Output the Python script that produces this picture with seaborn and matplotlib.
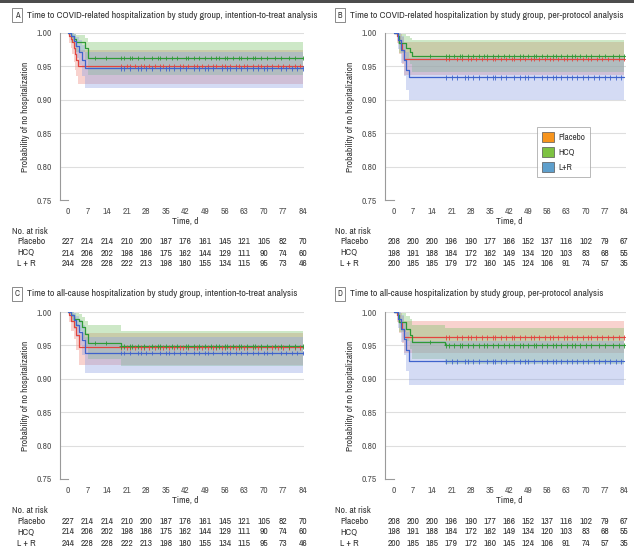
import matplotlib
matplotlib.use("Agg")
import numpy as np
import pandas as pd
import matplotlib.pyplot as plt
import seaborn as sns
from matplotlib import font_manager
from matplotlib.patches import Patch, Rectangle
from matplotlib.transforms import blended_transform_factory

sns.set_theme(style="white")

# prefer a narrow sans face when one is installed
_rank = {"semi-condensed": 0, "condensed": 1, "extra-condensed": 2, "ultra-condensed": 3}
_cands = []
for f in font_manager.fontManager.ttflist:
    if f.style != "normal" or f.weight not in (400, "normal", "regular", "book"):
        continue
    n = f.name.lower()
    st = str(f.stretch).lower()
    if "mono" in n or "serif" in n:
        continue
    if st in _rank:
        _cands.append((_rank[st], f.name, st))
    elif "narrow" in n or "condensed" in n:
        _cands.append((1, f.name, "normal"))
if _cands:
    _, FONT, STRETCH = sorted(_cands)[0]
    NARROW = True
else:
    FONT, STRETCH, NARROW = "Liberation Sans", "normal", False
plt.rcParams["font.family"] = [FONT, "DejaVu Sans"]
plt.rcParams["font.stretch"] = STRETCH

# ---------------------------------------------------------------- data
groups = ["Placebo", "HCQ", "L+R"]
risk_days = [0, 7, 14, 21, 28, 35, 42, 49, 56, 63, 70, 77, 84]

# numbers at risk
itt_risk_placebo = [227, 214, 214, 210, 200, 187, 176, 161, 145, 121, 105, 82, 70]
itt_risk_hcq = [214, 206, 202, 198, 186, 175, 162, 144, 129, 111, 90, 74, 60]
itt_risk_lr = [244, 228, 228, 222, 213, 198, 180, 155, 134, 115, 95, 73, 46]
pp_risk_placebo = [208, 200, 200, 196, 190, 177, 166, 152, 137, 116, 102, 79, 67]
pp_risk_hcq = [198, 191, 188, 184, 172, 162, 149, 134, 120, 103, 83, 68, 55]
pp_risk_lr = [200, 185, 185, 179, 172, 160, 145, 124, 106, 91, 74, 57, 35]

# censoring days
itt_cens_placebo = [19, 21, 22, 24, 26, 27, 29, 31, 33, 34, 36, 38, 40, 41, 43, 45, 46, 48, 50,
                    52, 53, 55, 56, 58, 60, 61, 63, 64, 66, 68, 69, 71, 73, 75, 77, 79, 81, 83]
itt_cens_hcq = [9.5, 13.5, 19, 20, 22, 23, 25, 27, 30, 32, 33, 35, 37, 39, 42, 43, 45, 47, 49,
                51, 53, 54, 56, 57, 59, 61, 62, 64, 66, 67, 69, 71, 74, 76, 79, 81, 84]
itt_cens_lr = [19, 20, 22, 25, 26, 28, 30, 33, 35, 36, 38, 40, 42, 45, 47, 49, 50, 52, 55, 57,
               58, 60, 62, 64, 66, 68, 70, 71, 73, 76, 78, 80, 82, 84]
pp_cens_placebo = [19, 20, 23, 25, 27, 28, 30, 32, 34, 36, 37, 39, 41, 43, 44, 46, 48, 50, 51,
                   53, 55, 57, 58, 60, 62, 63, 65, 67, 69, 71, 72, 74, 76, 78, 80, 82, 84]
pp_cens_hcq = [13, 19, 20, 22, 24, 25, 27, 29, 31, 33, 34, 36, 38, 40, 42, 44, 46, 47, 49, 51,
               52, 54, 56, 58, 59, 61, 63, 65, 66, 68, 70, 72, 75, 77, 80, 82, 84]
pp_cens_lr = [19, 21, 23, 26, 27, 29, 31, 34, 36, 37, 39, 41, 44, 46, 48, 49, 51, 54, 56, 58,
              59, 61, 63, 65, 67, 69, 71, 73, 75, 77, 79, 81, 83]

# A: COVID-related hospitalization, intention-to-treat
a_placebo_t = [0, 0.5, 1, 1.5, 2, 2.5, 3, 3.5, 84]
a_placebo_s = [1, 0.995, 0.991, 0.986, 0.978, 0.969, 0.960, 0.951, 0.951]
a_placebo_lo = [1, 0.985, 0.977, 0.968, 0.957, 0.945, 0.935, 0.924, 0.924]
a_placebo_hi = [1, 1.0, 0.998, 0.995, 0.991, 0.985, 0.979, 0.975, 0.975]
a_hcq_t = [0, 1, 2, 3, 6, 7, 84]
a_hcq_s = [1, 0.995, 0.991, 0.986, 0.977, 0.963, 0.963]
a_hcq_lo = [1, 0.985, 0.979, 0.972, 0.959, 0.937, 0.937]
a_hcq_hi = [1, 1, 0.999, 0.997, 0.993, 0.987, 0.987]
a_lr_t = [0, 1, 2, 3, 4, 5, 6, 84]
a_lr_s = [1, 0.996, 0.988, 0.980, 0.972, 0.960, 0.947, 0.947]
a_lr_lo = [1, 0.988, 0.975, 0.963, 0.952, 0.935, 0.918, 0.918]
a_lr_hi = [1, 1, 0.998, 0.994, 0.989, 0.982, 0.972, 0.972]

# B: COVID-related hospitalization, per-protocol
b_placebo_t = [0, 1, 2, 3, 3.5, 84]
b_placebo_s = [1, 0.995, 0.985, 0.975, 0.9615, 0.9615]
b_placebo_lo = [1, 0.985, 0.968, 0.953, 0.937, 0.937]
b_placebo_hi = [1, 1, 0.998, 0.994, 0.987, 0.987]
b_hcq_t = [0, 1.5, 2, 4.5, 5.8, 6.5, 84]
b_hcq_s = [1, 0.995, 0.985, 0.978, 0.972, 0.966, 0.966]
b_hcq_lo = [1, 0.983, 0.970, 0.961, 0.953, 0.942, 0.942]
b_hcq_hi = [1, 1, 0.998, 0.995, 0.992, 0.989, 0.989]
b_lr_t = [0, 1.5, 2.5, 3.5, 4.5, 5.5, 84]
b_lr_s = [1, 0.990, 0.975, 0.960, 0.945, 0.9335, 0.9335]
b_lr_lo = [1, 0.976, 0.955, 0.935, 0.915, 0.900, 0.900]
b_lr_hi = [1, 1, 0.995, 0.985, 0.972, 0.963, 0.963]

# C: all-cause hospitalization, intention-to-treat
c_placebo_t = [0, 0.5, 1, 2, 3, 4, 84]
c_placebo_s = [1, 0.995, 0.987, 0.978, 0.965, 0.947, 0.947]
c_placebo_lo = [1, 0.985, 0.972, 0.959, 0.943, 0.921, 0.921]
c_placebo_hi = [1, 1, 0.997, 0.992, 0.982, 0.968, 0.968]
c_hcq_t = [0, 1, 2, 4, 5, 6, 7, 19, 84]
c_hcq_s = [1, 0.995, 0.990, 0.986, 0.977, 0.967, 0.9535, 0.9485, 0.9485]
c_hcq_lo = [1, 0.985, 0.977, 0.971, 0.959, 0.946, 0.930, 0.919, 0.919]
c_hcq_hi = [1, 1, 0.999, 0.997, 0.993, 0.986, 0.980, 0.972, 0.972]
c_lr_t = [0, 1, 2, 3, 4, 5, 6, 84]
c_lr_s = [1, 0.996, 0.988, 0.980, 0.970, 0.958, 0.9385, 0.9385]
c_lr_lo = [1, 0.988, 0.975, 0.963, 0.950, 0.935, 0.9085, 0.9085]
c_lr_hi = [1, 1, 0.998, 0.994, 0.988, 0.980, 0.963, 0.963]

# D: all-cause hospitalization, per-protocol
d_placebo_t = [0, 1, 2, 3, 3.5, 84]
d_placebo_s = [1, 0.995, 0.985, 0.975, 0.962, 0.962]
d_placebo_lo = [1, 0.985, 0.968, 0.953, 0.938, 0.938]
d_placebo_hi = [1, 1, 0.998, 0.994, 0.987, 0.987]
d_hcq_t = [0, 1.5, 2, 4.5, 5.8, 6.5, 18.6, 84]
d_hcq_s = [1, 0.995, 0.985, 0.975, 0.965, 0.955, 0.950, 0.950]
d_hcq_lo = [1, 0.983, 0.970, 0.957, 0.944, 0.930, 0.922, 0.922]
d_hcq_hi = [1, 1, 0.998, 0.994, 0.989, 0.981, 0.976, 0.976]
d_lr_t = [0, 1.5, 2.5, 3.5, 4.5, 5.5, 84]
d_lr_s = [1, 0.990, 0.975, 0.960, 0.943, 0.926, 0.926]
d_lr_lo = [1, 0.976, 0.955, 0.935, 0.912, 0.890, 0.890]
d_lr_hi = [1, 1, 0.995, 0.985, 0.970, 0.956, 0.956]

panels = [
    dict(letter="A",
         title="Time to COVID-related hospitalization by study group, intention-to-treat analysis",
         curves=[(a_placebo_t, a_placebo_s, a_placebo_lo, a_placebo_hi),
                 (a_hcq_t, a_hcq_s, a_hcq_lo, a_hcq_hi),
                 (a_lr_t, a_lr_s, a_lr_lo, a_lr_hi)],
         cens=[itt_cens_placebo, itt_cens_hcq, itt_cens_lr],
         risk=[itt_risk_placebo, itt_risk_hcq, itt_risk_lr]),
    dict(letter="B",
         title="Time to COVID-related hospitalization by study group, per-protocol analysis",
         curves=[(b_placebo_t, b_placebo_s, b_placebo_lo, b_placebo_hi),
                 (b_hcq_t, b_hcq_s, b_hcq_lo, b_hcq_hi),
                 (b_lr_t, b_lr_s, b_lr_lo, b_lr_hi)],
         cens=[pp_cens_placebo, pp_cens_hcq, pp_cens_lr],
         risk=[pp_risk_placebo, pp_risk_hcq, pp_risk_lr]),
    dict(letter="C",
         title="Time to all-cause hospitalization by study group, intention-to-treat analysis",
         curves=[(c_placebo_t, c_placebo_s, c_placebo_lo, c_placebo_hi),
                 (c_hcq_t, c_hcq_s, c_hcq_lo, c_hcq_hi),
                 (c_lr_t, c_lr_s, c_lr_lo, c_lr_hi)],
         cens=[itt_cens_placebo, itt_cens_hcq, itt_cens_lr],
         risk=[itt_risk_placebo, itt_risk_hcq, itt_risk_lr]),
    dict(letter="D",
         title="Time to all-cause hospitalization by study group, per-protocol analysis",
         curves=[(d_placebo_t, d_placebo_s, d_placebo_lo, d_placebo_hi),
                 (d_hcq_t, d_hcq_s, d_hcq_lo, d_hcq_hi),
                 (d_lr_t, d_lr_s, d_lr_lo, d_lr_hi)],
         cens=[pp_cens_placebo, pp_cens_hcq, pp_cens_lr],
         risk=[pp_risk_placebo, pp_risk_hcq, pp_risk_lr]),
]

# ---------------------------------------------------------------- style
line_colors = {"Placebo": "#E2453F", "HCQ": "#2E9A36", "L+R": "#3F63CC"}
band_colors = {"Placebo": "#EE8A80", "HCQ": "#7CC46E", "L+R": "#8EA2E4"}
legend_colors = {"Placebo": "#F7941D", "HCQ": "#7DC242", "L+R": "#5E9FCC"}
TXT = "#333333"
TICK = "#555555"
GRID = "#DEDEDE"
FS = 6.8 if NARROW else 6.1

W, H = 634, 550
fig = plt.figure(figsize=(W / 100, H / 100), dpi=100)
fig.patch.set_facecolor("white")
renderer = fig.canvas.get_renderer()


def width_px(s, size):
    t = fig.text(0, 0, s, fontsize=size)
    w = t.get_window_extent(renderer).width
    t.remove()
    return w


# printed title widths in pixels
TITLE_W = {"A": 288, "B": 282, "C": 282, "D": 260}

# pixel geometry for each panel: (left, right, top, bottom, x of day 0, x of day 84, text x)
geom = {
    "A": (60, 304, 33, 200, 68, 303, 12),
    "B": (385, 626, 33, 200, 394, 624, 335),
    "C": (60, 304, 312, 479, 68, 303, 12),
    "D": (385, 626, 312, 479, 394, 624, 335),
}


def step_value(t, s, x):
    idx = np.searchsorted(np.asarray(t), x, side="right") - 1
    return np.asarray(s)[idx]


# one shared title size so that the widest title fits its slot
tfs = FS + 0.6
tfs = min(tfs * TITLE_W[p["letter"]] / width_px(p["title"], tfs) for p in panels)

for p in panels:
    L, R, T, B, x0, x84, tx = geom[p["letter"]]
    ax = fig.add_axes([L / W, 1 - B / H, (R - L) / W, (B - T) / H])
    ppd = (x84 - x0) / 84.0
    ax.set_xlim(-(x0 - L) / ppd, 84 + (R - x84) / ppd)
    ax.set_ylim(0.75, 1.0)
    ax.set_facecolor("white")

    # grid
    for yv in [0.80, 0.85, 0.90, 0.95, 1.00]:
        ax.axhline(yv, color=GRID, lw=0.8, zorder=0)

    # confidence bands
    for g, (t, s, lo, hi) in zip(groups, p["curves"]):
        ax.fill_between(t, lo, hi, step="post", color=band_colors[g], alpha=0.38, lw=0, zorder=1)

    # survival curves
    rows = []
    for g, (t, s, lo, hi) in zip(groups, p["curves"]):
        for tt, ss in zip(t, s):
            rows.append({"day": tt, "surv": ss, "group": g})
    df = pd.DataFrame(rows)
    sns.lineplot(data=df, x="day", y="surv", hue="group", hue_order=groups,
                 palette=line_colors, estimator=None, drawstyle="steps-post",
                 lw=0.9, legend=False, ax=ax, zorder=3)

    # censor marks
    crow = []
    for g, (t, s, lo, hi), cd in zip(groups, p["curves"], p["cens"]):
        for d in cd:
            crow.append({"day": d, "surv": step_value(t, s, d), "group": g})
    cdf = pd.DataFrame(crow)
    sns.scatterplot(data=cdf, x="day", y="surv", hue="group", hue_order=groups,
                    palette=line_colors, marker="+", s=10, linewidth=0.6,
                    legend=False, ax=ax, zorder=4)

    # axes styling
    for side in ["top", "right"]:
        ax.spines[side].set_visible(False)
    ax.spines["left"].set_color("#9A9A9A")
    ax.spines["left"].set_linewidth(0.8)
    ax.spines["bottom"].set_color("#9A9A9A")
    ax.spines["bottom"].set_linewidth(0.8)
    ax.spines["bottom"].set_bounds(ax.get_xlim()[0], 0)
    ax.set_xticks(risk_days)
    ax.set_xticklabels([str(d) for d in risk_days])
    ax.set_yticks([0.75, 0.80, 0.85, 0.90, 0.95, 1.00])
    ax.set_yticklabels(["0.75", "0.80", "0.85", "0.90", "0.95", "1.00"])
    ax.tick_params(axis="both", labelsize=FS, colors="#9A9A9A", labelcolor=TICK,
                   length=3, width=0.7, pad=2.5)
    ax.tick_params(axis="x", pad=1.8)
    for i, tk in enumerate(ax.xaxis.get_major_ticks()):
        if i > 0:
            tk.tick1line.set_visible(False)
    ax.set_xlabel("")
    ax.set_ylabel("Probability of no hospitalization", fontsize=FS, color=TXT, labelpad=5)

    # x label and numbers at risk
    tr = blended_transform_factory(ax.transData, fig.transFigure)
    ax.text(42, 1 - (B + 21) / H, "Time, d", transform=tr, ha="center", va="center",
            fontsize=FS, color=TXT)
    fig.text(tx / W, 1 - (B + 31.5) / H, "No. at risk", ha="left", va="center",
             fontsize=FS, color=TXT)
    for k, (g, counts) in enumerate(zip(groups, p["risk"])):
        yy = 1 - (B + 42 + 11 * k) / H
        fig.text((tx + 5) / W, yy, "L + R" if g == "L+R" else g,
                 ha="left", va="center", fontsize=FS, color=TXT)
        for d, n in zip(risk_days, counts):
            ax.text(d, yy, str(n), transform=tr, ha="center", va="center",
                    fontsize=FS, color=TXT)

    # panel title
    ty = 1 - (T - 18) / H
    fig.text((tx + 5) / W, ty, p["letter"], ha="center", va="center", fontsize=FS - 0.8,
             fontweight="bold", color=TXT,
             bbox=dict(boxstyle="square,pad=0.3", fc="white", ec="#777777", lw=0.6))
    fig.text((tx + 15) / W, ty, p["title"], ha="left", va="center", fontsize=tfs,
             color=TXT)

    if p["letter"] == "B":
        handles = [Patch(facecolor=legend_colors[g], edgecolor="#555555", lw=0.5, label=g)
                   for g in groups]
        leg = ax.legend(handles=handles, loc="upper left", bbox_to_anchor=(0.61, 0.465),
                        fontsize=FS - 0.3, frameon=True, fancybox=False, borderpad=0.6,
                        handlelength=1.3, handleheight=1.3, labelspacing=0.55,
                        handletextpad=0.5)
        leg.get_frame().set_edgecolor("#999999")
        leg.get_frame().set_linewidth(0.6)
        for txt in leg.get_texts():
            txt.set_color(TXT)

# top rule
fig.add_artist(Rectangle((0, 1 - 2.5 / H), 1, 2.5 / H, transform=fig.transFigure,
                         color="#4D4D4D", lw=0))

fig.savefig("out.png", dpi=100, facecolor="white")
